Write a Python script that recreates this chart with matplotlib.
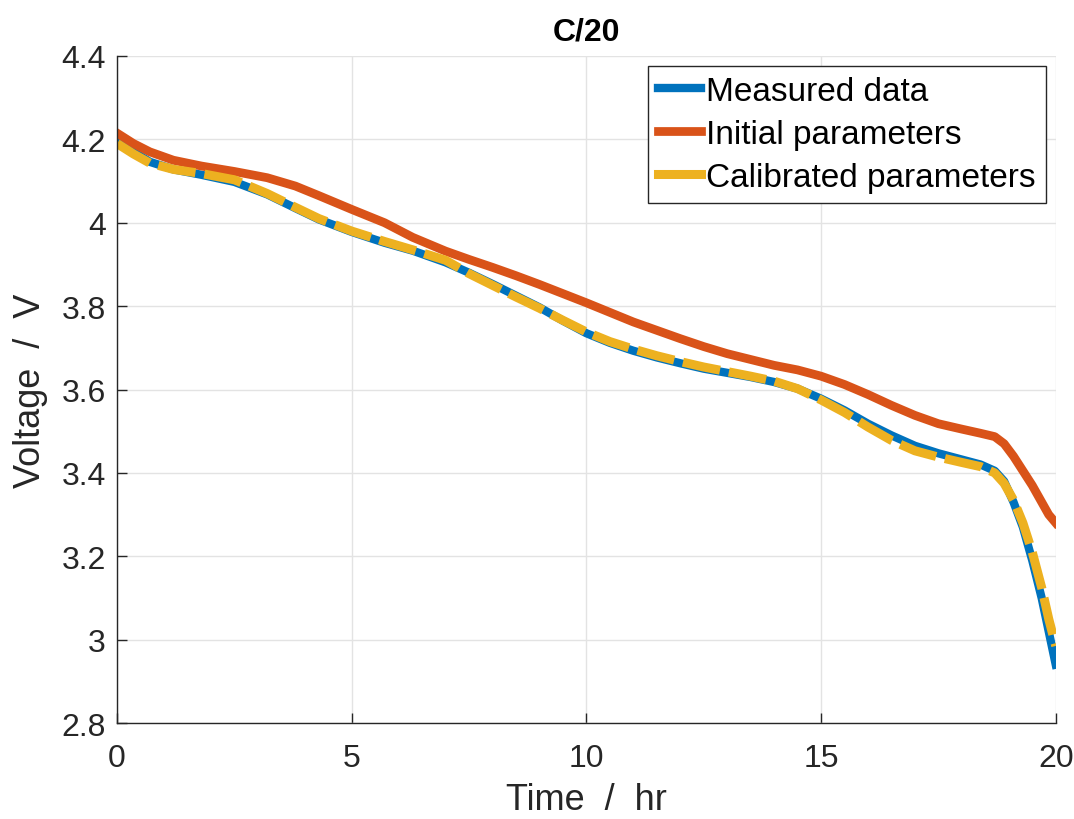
import matplotlib
matplotlib.use("Agg")
import matplotlib.pyplot as plt
from matplotlib.ticker import FuncFormatter

plt.rcParams['font.family'] = ['Liberation Sans', 'DejaVu Sans']

# time in hours
time_hr = [0, 0.35, 0.7, 1.2, 1.8, 2.5, 3.2, 3.8, 4.3, 5, 5.7, 6.3, 7, 7.5, 8, 8.5,
           9, 9.5, 10, 10.5, 11, 11.5, 12, 12.5, 13, 13.5, 14, 14.5, 15, 15.5, 16,
           16.5, 17, 17.5, 18, 18.4, 18.7, 18.9, 19.1, 19.3, 19.5, 19.7, 19.85, 20]

measured = [4.195, 4.17, 4.146, 4.128, 4.115, 4.098, 4.068, 4.035, 4.008, 3.978,
            3.952, 3.933, 3.905, 3.88, 3.853, 3.825, 3.797, 3.765, 3.735, 3.712,
            3.693, 3.677, 3.663, 3.65, 3.64, 3.63, 3.618, 3.602, 3.578, 3.55,
            3.518, 3.49, 3.465, 3.447, 3.432, 3.42, 3.405, 3.38, 3.33, 3.27,
            3.19, 3.10, 3.02, 2.94]

initial = [4.215, 4.19, 4.17, 4.15, 4.136, 4.123, 4.108, 4.088, 4.065, 4.032,
           4.0, 3.965, 3.932, 3.912, 3.893, 3.873, 3.852, 3.83, 3.808, 3.785,
           3.762, 3.742, 3.722, 3.703, 3.686, 3.672, 3.658, 3.647, 3.632, 3.612,
           3.588, 3.562, 3.538, 3.518, 3.505, 3.495, 3.487, 3.47, 3.44, 3.405,
           3.37, 3.33, 3.30, 3.28]

calibrated = [4.19, 4.165, 4.143, 4.128, 4.118, 4.103, 4.07, 4.037, 4.01, 3.98,
              3.955, 3.935, 3.91, 3.878, 3.85, 3.822, 3.795, 3.766, 3.738, 3.715,
              3.697, 3.681, 3.667, 3.654, 3.643, 3.632, 3.62, 3.602, 3.575, 3.545,
              3.51, 3.478, 3.453, 3.438, 3.425, 3.415, 3.4, 3.375, 3.335, 3.28,
              3.21, 3.125, 3.05, 2.985]

fig = plt.figure(figsize=(10.74, 8.2), dpi=100)
ax = fig.add_axes([0.109, 0.117, 0.874, 0.8135])

ax.plot(time_hr, measured, color='#0072BD', lw=6, label='Measured data')
ax.plot(time_hr, initial, color='#D95319', lw=6.3, label='Initial parameters')
ax.plot(time_hr, calibrated, color='#EDB120', lw=6.5, dashes=(4.2, 1.0),
        dash_capstyle='butt', label='Calibrated parameters')

ax.set_xlim(0, 20)
ax.set_ylim(2.8, 4.4)
ax.set_xticks([0, 5, 10, 15, 20])
ax.set_yticks([2.8, 3, 3.2, 3.4, 3.6, 3.8, 4, 4.2, 4.4])
ax.yaxis.set_major_formatter(FuncFormatter(lambda v, p: f"{v:g}"))

ax.grid(True, color='#e3e3e3', lw=1.0)
ax.set_axisbelow(True)
ax.spines['top'].set_visible(False)
ax.spines['right'].set_visible(False)
for s in ('left', 'bottom'):
    ax.spines[s].set_color('#262626')
    ax.spines[s].set_linewidth(1.0)
ax.tick_params(direction='in', length=7, width=1.0, colors='#262626',
               labelsize=23, top=False, right=False)
ax.tick_params(axis='x', pad=14)
ax.tick_params(axis='y', pad=8)

ax.set_xlabel('Time  /  hr', fontsize=26, color='#262626', labelpad=7)
ax.set_ylabel('Voltage  /  V', fontsize=26, color='#262626', labelpad=10)
ax.set_title('C/20', fontsize=23, fontweight='bold', pad=12)

leg = ax.legend(loc='upper right', fontsize=24, handlelength=1.3,
                handletextpad=0.15, labelspacing=0.36, borderpad=0.3,
                borderaxespad=0.3, fancybox=False, framealpha=1)
leg.get_frame().set_edgecolor('#262626')
leg.get_frame().set_linewidth(1.0)
for h in leg.get_lines():
    h.set_linestyle('-')

fig.savefig('out.png', dpi=100)
